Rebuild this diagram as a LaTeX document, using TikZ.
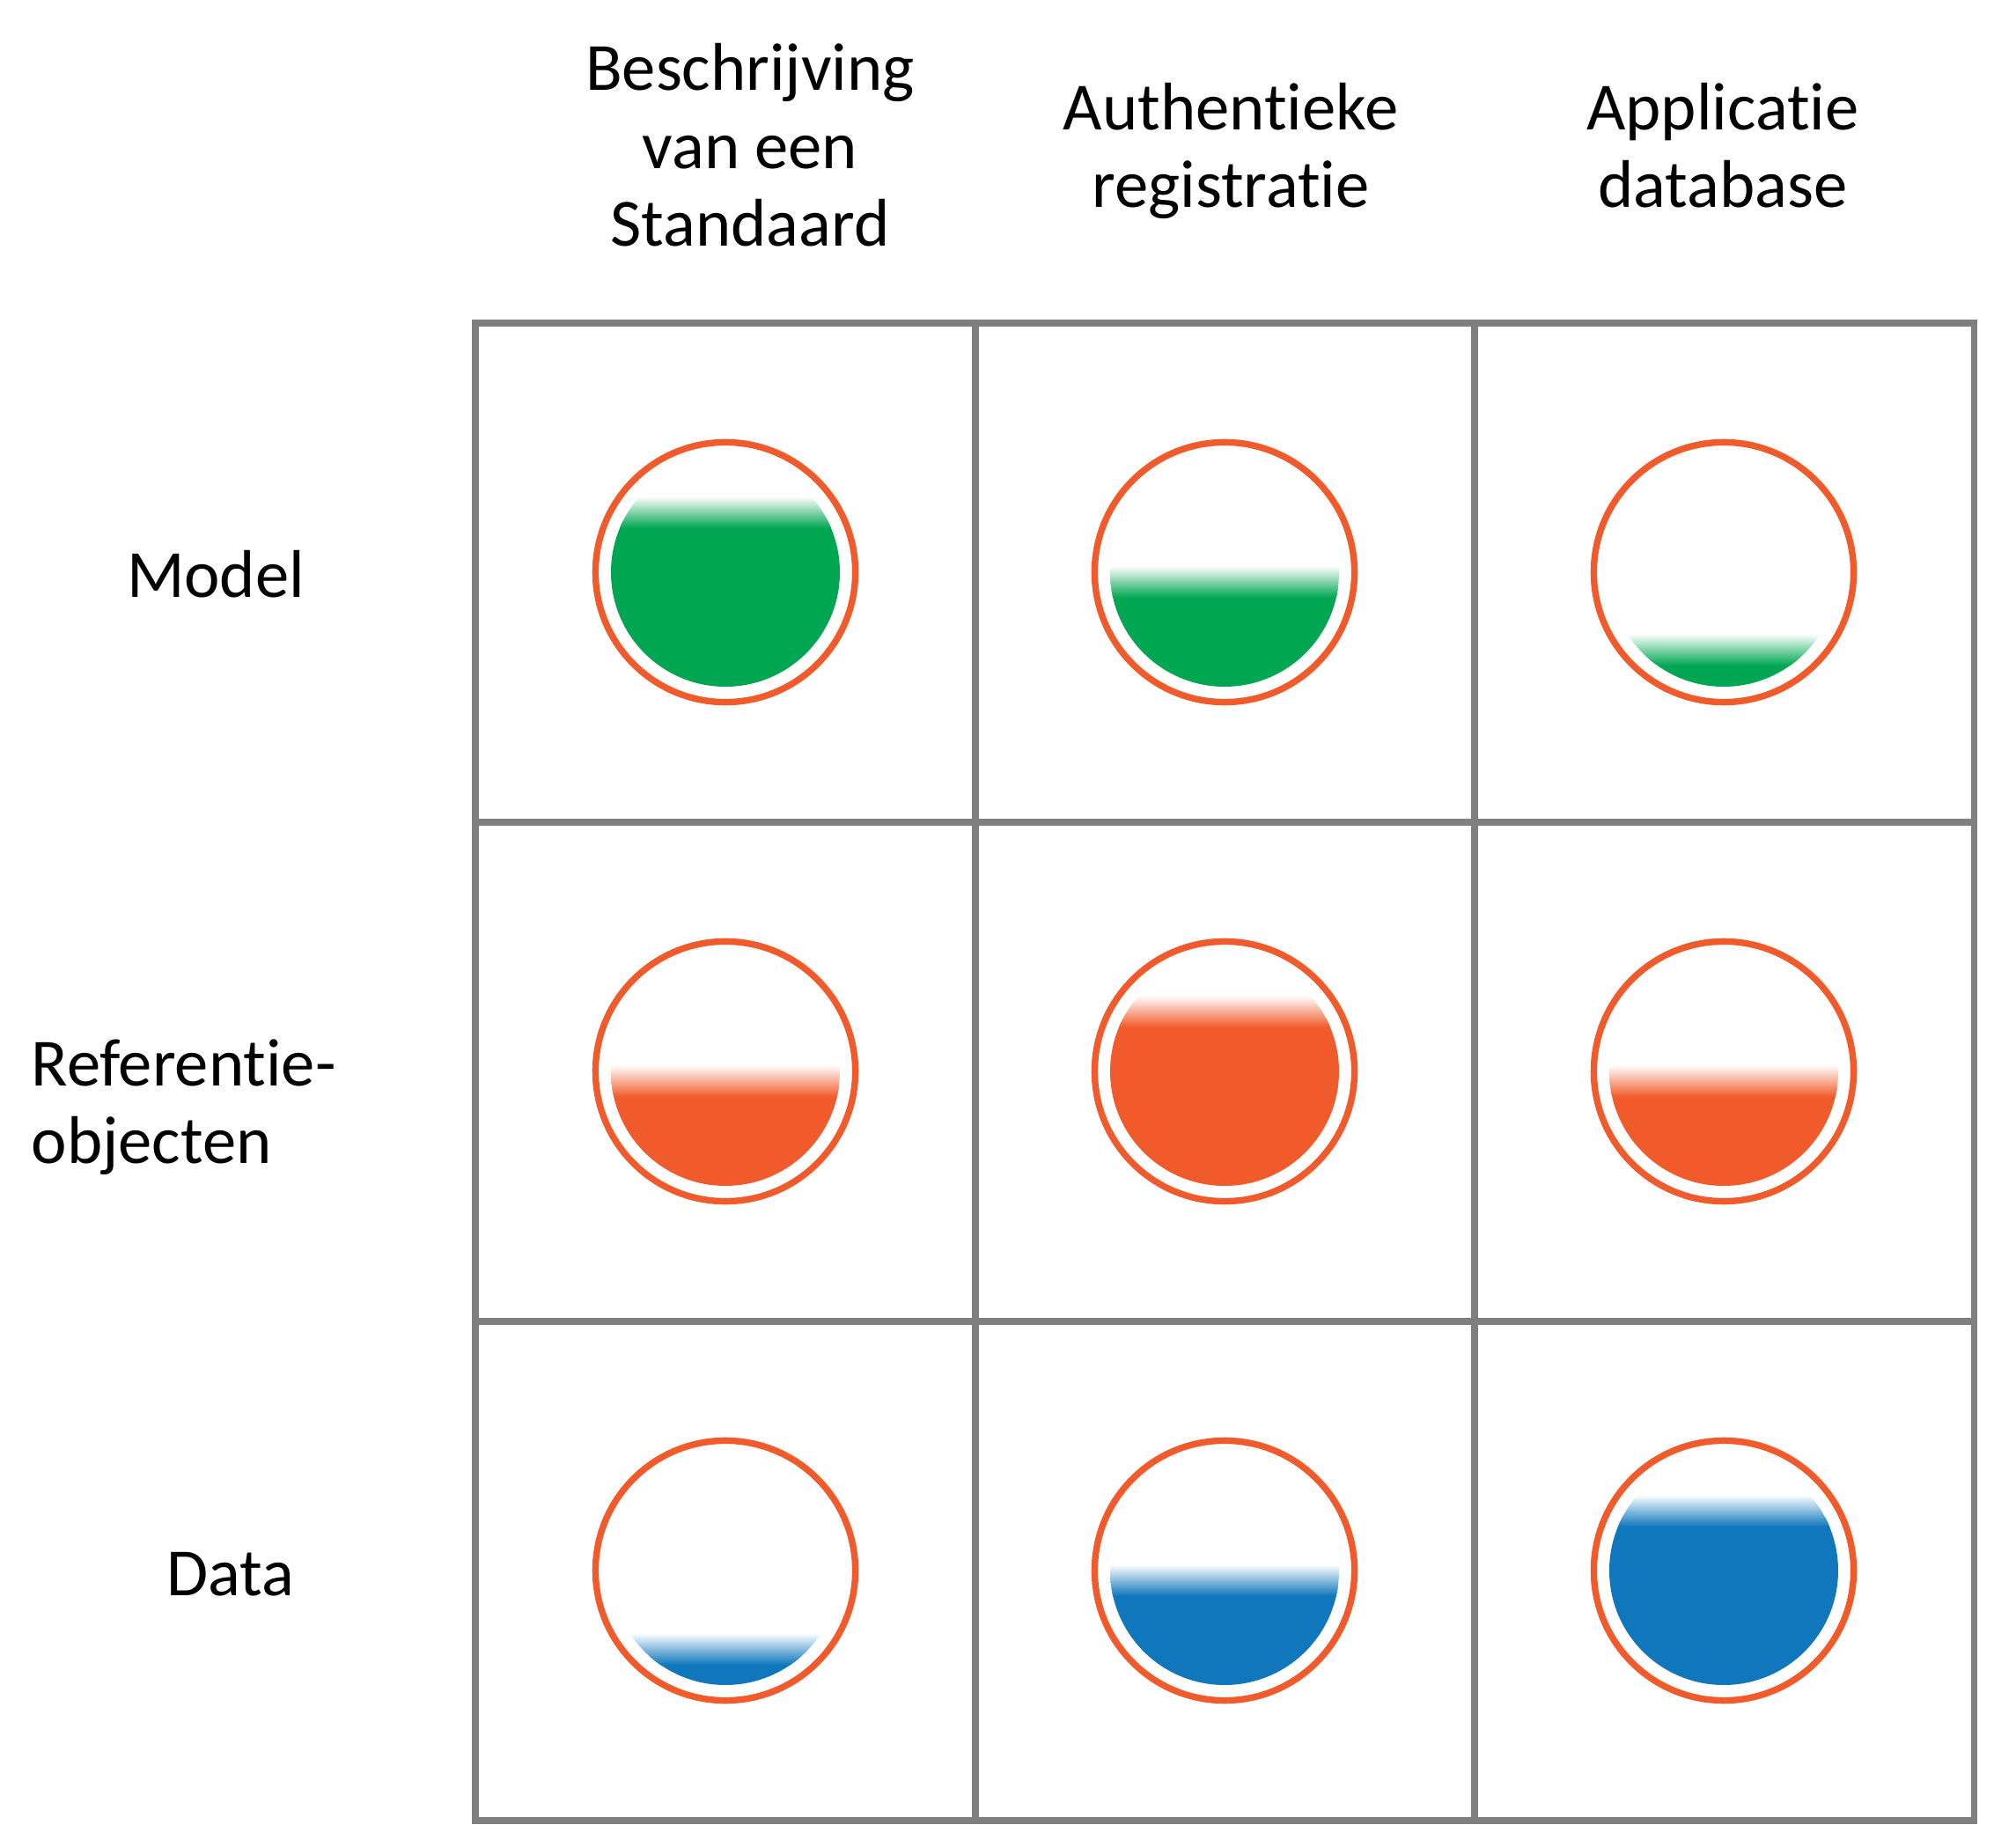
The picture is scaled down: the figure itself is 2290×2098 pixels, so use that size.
\documentclass[tikz,border=0pt]{standalone}
\usepackage{fontspec}
\setmainfont{Carlito}[Ligatures=NoCommon]
\definecolor{ringorange}{HTML}{F15A2B}
\definecolor{fillgreen}{HTML}{00A651}
\definecolor{fillorange}{HTML}{F15A2B}
\definecolor{fillblue}{HTML}{1077BD}
\definecolor{gridgray}{HTML}{7F7F7F}
\tikzset{
    gridline/.style={draw=gridgray, line width=2pt},
    ring/.style={draw=ringorange, circle, line width=2.1pt, minimum size=2.95cm, inner sep=0pt},
    txt/.style={inner sep=0pt, font=\fontsize{21.8}{25.3}\selectfont},
    colhead/.style={txt, align=center, anchor=base}
}

\begin{document}
\begin{tikzpicture}[x=0.01cm, y=-0.01cm]
    \useasboundingbox (0,0) rectangle (2290,2098);

    % column headers (base = last line)
    \node[colhead] (hstd) at (852,280) {Beschrijving\\van een\\Standaard};
    \node[colhead] (hreg) at (1398,236) {Authentieke\\registratie};
    \node[colhead] (hdb)  at (1957,236) {Applicatie\\database};

    % row labels
    \node[txt, anchor=base] (rmodel) at (245,679) {Model};
    \node[txt, align=left, anchor=base west] (rref) at (35,1322) {Referentie-\\objecten};
    \node[txt, anchor=base] (rdata) at (262,1812) {Data};

    % grid
    \draw[gridline] (540,367) rectangle (2242,2068);
    \foreach \x in {1108,1675} \draw[gridline] (\x,367) -- (\x,2068);
    \foreach \y in {934,1501} \draw[gridline] (540,\y) -- (2242,\y);

    % gauges: x / y / level / colour
    \foreach \cx/\cy/\lv/\col [count=\i] in {
        824/650/-68/fillgreen, 1391/650/11/fillgreen, 1958/650/88/fillgreen,
        824/1217/11/fillorange, 1391/1217/-68/fillorange, 1958/1217/11/fillorange,
        824/1784/89/fillblue, 1391/1784/11/fillblue, 1958/1784/-68/fillblue}{
        \begin{scope}
            \clip (\cx,\cy) circle (130);
            \fill[\col] (\cx-140,\cy+\lv+8) rectangle (\cx+140,\cy+140);
            \shade[top color=white, bottom color=\col] (\cx-140,\cy+\lv-18) rectangle (\cx+140,\cy+\lv+18);
        \end{scope}
        \node[ring] (g\i) at (\cx,\cy) {};
    }
\end{tikzpicture}
\end{document}
